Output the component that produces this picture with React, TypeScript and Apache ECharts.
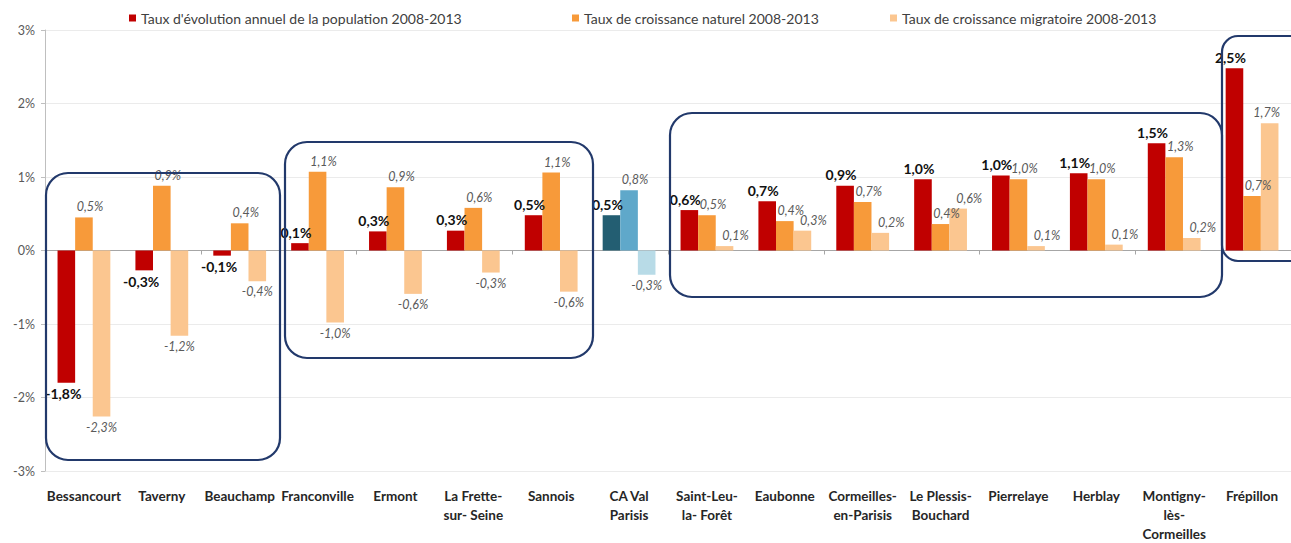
import React, { useEffect, useRef } from "react";
import * as echarts from "echarts";

const categories = [
  "Bessancourt",
  "Taverny",
  "Beauchamp",
  "Franconville",
  "Ermont",
  "La Frette-\nsur- Seine",
  "Sannois",
  "CA Val\nParisis",
  "Saint-Leu-\nla- Forêt",
  "Eaubonne",
  "Cormeilles-\nen-Parisis",
  "Le Plessis-\nBouchard",
  "Pierrelaye",
  "Herblay",
  "Montigny-\nlès-\nCormeilles",
  "Frépillon",
];

const seriesNames = [
  "Taux d'évolution annuel de la population 2008-2013",
  "Taux de croissance naturel 2008-2013",
  "Taux de croissance migratoire 2008-2013",
];

const evolution = [-1.8, -0.27, -0.07, 0.1, 0.26, 0.27, 0.48, 0.48, 0.55, 0.67, 0.88, 0.97, 1.02, 1.05, 1.46, 2.48];
const naturel = [0.45, 0.88, 0.37, 1.07, 0.86, 0.58, 1.06, 0.82, 0.48, 0.4, 0.66, 0.36, 0.97, 0.97, 1.27, 0.74];
const migratoire = [-2.26, -1.16, -0.42, -0.98, -0.59, -0.3, -0.56, -0.33, 0.06, 0.27, 0.24, 0.57, 0.06, 0.08, 0.17, 1.73];

const yTicks = [-3, -2, -1, 0, 1, 2, 3];

const colors = ["#C00000", "#F79A3A", "#FBC690"];
const highlightColors = ["#235E72", "#5FA8CA", "#B8DBE7"];
const highlightIndex = 7;

const FONT = "Lato, 'Noto Sans', sans-serif";

const fmt = (v: number) => v.toFixed(1).replace(".", ",") + "%";

export default function App() {
  const ref = useRef<HTMLDivElement>(null);

  useEffect(() => {
    if (!ref.current) return;
    const chart = echarts.init(ref.current, undefined, { renderer: "svg" });

    const posShift = [-4, 6, 11];
    const lastIndex = categories.length - 1;

    const makeSeries = (values: number[], si: number) => {
      const isMain = si === 0;
      return {
        name: seriesNames[si],
        type: "bar",
        xAxisIndex: 0,
        barWidth: 17.6,
        barGap: "0%",
        itemStyle: { color: colors[si] },
        label: {
          show: true,
          formatter: (p: any) => fmt(p.value),
          fontFamily: FONT,
          fontSize: isMain ? 14 : 12.5,
          fontWeight: isMain ? "bold" : "normal",
          fontStyle: isMain ? "normal" : "italic",
          color: isMain ? "#111111" : "#5A5A5A",
          distance: 4,
        },
        data: values.map((v, i) => {
          // keep the right-most labels inside the picture
          const shift = v < 0 ? (isMain ? -3 : 0) : i === lastIndex && si === 2 ? -3 : posShift[si];
          return {
            value: v,
            itemStyle: { color: i === highlightIndex ? highlightColors[si] : colors[si] },
            label: { position: v < 0 ? "bottom" : "top", offset: [shift, 0] },
          };
        }),
      };
    };

    const legendBase = {
      top: 11,
      padding: 0,
      icon: "rect",
      itemWidth: 7,
      itemHeight: 7,
      textStyle: { fontFamily: FONT, fontSize: 14, color: "#404040" },
      selectedMode: false,
    };

    chart.setOption({
      animation: false,
      backgroundColor: "#ffffff",
      textStyle: { fontFamily: FONT },
      legend: [
        { ...legendBase, left: 129, data: [seriesNames[0]] },
        { ...legendBase, left: 572, data: [seriesNames[1]] },
        { ...legendBase, left: 890, data: [seriesNames[2]] },
      ],
      grid: { left: 45, right: -9, top: 30, bottom: 62, containLabel: false },
      xAxis: [
        {
          type: "category",
          data: categories,
          position: "bottom",
          axisLine: { show: false, onZero: false },
          axisTick: { show: false },
          axisLabel: {
            interval: 0,
            margin: 15,
            fontFamily: FONT,
            fontSize: 13.5,
            fontWeight: "bold",
            color: "#262626",
            lineHeight: 19,
            verticalAlign: "top",
          },
        },
        {
          type: "category",
          data: categories,
          position: "bottom",
          axisLine: { show: true, onZero: true, lineStyle: { color: "#A6A6A6", width: 1 } },
          axisTick: { show: true, length: 4, lineStyle: { color: "#A6A6A6" } },
          axisLabel: { show: false },
        },
      ],
      yAxis: {
        type: "value",
        min: yTicks[0],
        max: yTicks[yTicks.length - 1],
        interval: 1,
        axisLine: { show: true, lineStyle: { color: "#BFBFBF" } },
        axisTick: { show: true, length: 4, lineStyle: { color: "#BFBFBF" } },
        axisLabel: {
          formatter: (v: number) => v + "%",
          fontFamily: FONT,
          fontSize: 12.5,
          color: "#595959",
          margin: 10,
        },
        splitLine: { show: true, lineStyle: { color: "#EBEBEB", width: 1 } },
      },
      series: [makeSeries(evolution, 0), makeSeries(naturel, 1), makeSeries(migratoire, 2)],
      graphic: [
        { type: "rect", shape: { x: 46, y: 173, width: 234, height: 287, r: 22 }, style: { fill: "none", stroke: "#22396B", lineWidth: 2.2 }, z: 10 },
        { type: "rect", shape: { x: 285, y: 142, width: 308, height: 216, r: 22 }, style: { fill: "none", stroke: "#22396B", lineWidth: 2.2 }, z: 10 },
        { type: "rect", shape: { x: 670, y: 113, width: 552, height: 184, r: 22 }, style: { fill: "none", stroke: "#22396B", lineWidth: 2.2 }, z: 10 },
        { type: "rect", shape: { x: 1222, y: 36, width: 92, height: 225, r: 16 }, style: { fill: "none", stroke: "#22396B", lineWidth: 2.2 }, z: 10 },
      ],
    });

    return () => chart.dispose();
  }, []);

  return (
    <div
      ref={ref}
      style={{ position: "absolute", left: 0, top: 0, width: 1291, height: 543, overflow: "hidden" }}
    />
  );
}
